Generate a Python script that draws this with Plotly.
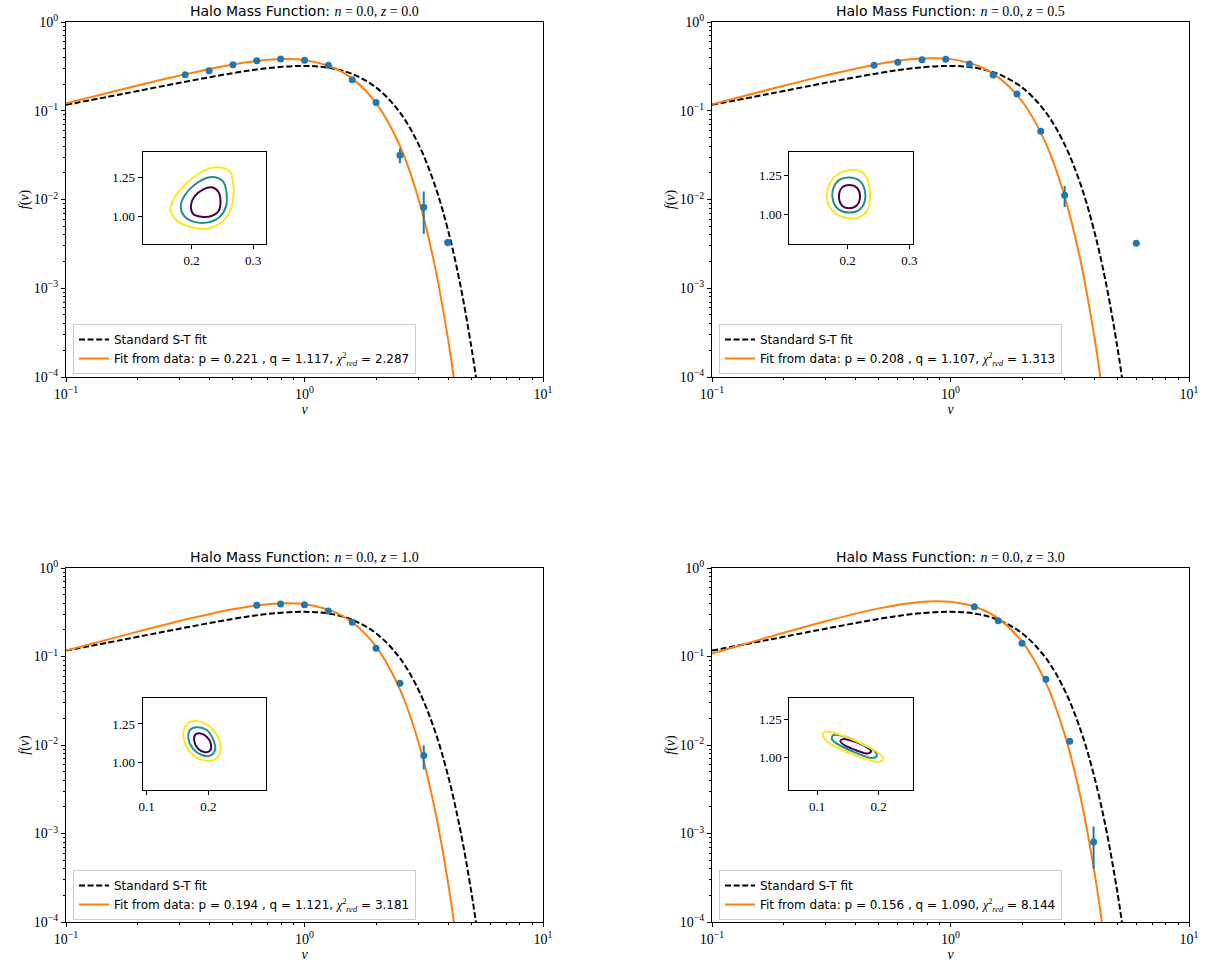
import plotly.graph_objects as go

# ---------------- data ----------------
redshifts = ["0.0", "0.5", "1.0", "3.0"]
p_fit = ["0.221", "0.208", "0.194", "0.156"]
q_fit = ["1.117", "1.107", "1.121", "1.090"]
chi2_fit = ["2.287", "1.313", "3.181", "8.144"]

# standard Sheth-Tormen curve
nu_std = [0.1, 0.15, 0.2, 0.3, 0.5, 0.7, 1.0, 1.3, 1.6, 2.0, 2.5, 3.0, 3.5, 4.0, 4.5, 5.0, 5.25, 5.5]
f_std = [0.11670, 0.14358, 0.16685, 0.20636, 0.26535, 0.30214, 0.32022, 0.30121, 0.25704,
         0.18207, 0.097333, 0.042395, 0.015173, 0.0044810, 0.0010973, 0.00022305, 0.00009388, 0.00003773]

# fitted curves (orange)
nu_fit = [0.1, 0.2, 0.3, 0.5, 0.7, 0.85, 1.0, 1.3, 1.6, 2.0, 2.5, 3.0, 3.5, 4.0, 4.25, 4.5]
f_fit_z00 = [0.12106, 0.19225, 0.24983, 0.33273, 0.37532, 0.38268, 0.37192, 0.31107, 0.22591,
             0.12113, 0.041401, 0.010364, 0.0019197, 0.00026454, 0.00008812, 0.000027255]
f_fit_z05 = [0.11845, 0.19106, 0.25035, 0.33674, 0.38227, 0.39126, 0.38158, 0.32127, 0.23483,
             0.12709, 0.044010, 0.011184, 0.0021075, 0.00029614, 0.00009965, 0.000031184]
f_fit_z10 = [0.11647, 0.19097, 0.25234, 0.34237, 0.39021, 0.39995, 0.39020, 0.32808, 0.23894,
             0.12833, 0.043836, 0.010944, 0.0020183, 0.00027651, 0.00009179, 0.000028286]
f_fit_z30 = [0.10832, 0.18539, 0.25068, 0.34966, 0.40596, 0.42087, 0.41493, 0.35590, 0.26447,
             0.14616, 0.052017, 0.013611, 0.0026487, 0.00038563, 0.00013229, 0.000042198]

# measured points
nu_z00 = [0.316, 0.398, 0.501, 0.631, 0.794, 1.0, 1.259, 1.585, 1.995, 2.512, 3.162, 3.981]
f_z00 = [0.255, 0.283, 0.330, 0.366, 0.383, 0.370, 0.325, 0.224, 0.124, 0.0316, 0.0082, 0.00327]
err_z00 = [0, 0, 0, 0, 0, 0, 0, 0, 0.002, 0.006, 0.0041, 0.0003]

nu_z05 = [0.478, 0.601, 0.759, 0.955, 1.20, 1.51, 1.90, 2.39, 3.01, 6.01]
f_z05 = [0.325, 0.351, 0.376, 0.380, 0.336, 0.253, 0.154, 0.0586, 0.0112, 0.00321]
err_z05 = [0, 0, 0, 0, 0, 0, 0, 0.002, 0.003, 0.0002]

nu_z10 = [0.631, 0.794, 1.0, 1.259, 1.585, 1.995, 2.512, 3.162]
f_z10 = [0.379, 0.392, 0.385, 0.327, 0.243, 0.124, 0.0498, 0.0076]
err_z10 = [0, 0, 0, 0, 0, 0, 0.002, 0.0023]

nu_z30 = [1.259, 1.585, 1.995, 2.512, 3.162, 3.981]
f_z30 = [0.365, 0.254, 0.141, 0.0552, 0.0110, 0.0008]
err_z30 = [0, 0, 0, 0.002, 0.0008, 0.0004]

# inset confidence contours (p on x, q on y)
c_z00_1x = [0.2324, 0.2432, 0.2470, 0.2432, 0.2324, 0.2162, 0.2027, 0.1989, 0.2054, 0.2189]
c_z00_1y = [1.1875, 1.1595, 1.0948, 1.0302, 1.0022, 0.9978, 1.0151, 1.0733, 1.1315, 1.1746]
c_z00_2x = [0.2378, 0.2514, 0.2568, 0.2557, 0.2459, 0.2243, 0.2027, 0.1876, 0.1822, 0.1892, 0.2081, 0.2243]
c_z00_2y = [1.2522, 1.2241, 1.1487, 1.0625, 0.9978, 0.9591, 0.9655, 1.0022, 1.0625, 1.1379, 1.2134, 1.2478]
c_z00_3x = [0.2459, 0.2622, 0.2676, 0.2676, 0.2622, 0.2459, 0.2243, 0.2000, 0.1784, 0.1659, 0.1676, 0.1811, 0.2081, 0.2297]
c_z00_3y = [1.3168, 1.2888, 1.2134, 1.1164, 1.0302, 0.9547, 0.9203, 0.9289, 0.9655, 1.0302, 1.0841, 1.1703, 1.2672, 1.3103]

c_z05_1x = [0.2027, 0.2146, 0.2200, 0.2146, 0.2027, 0.1908, 0.1859, 0.1908]
c_z05_1y = [1.1913, 1.1739, 1.1152, 1.0565, 1.0391, 1.0565, 1.1152, 1.1739]
c_z05_2x = [0.2027, 0.2189, 0.2276, 0.2276, 0.2189, 0.2027, 0.1865, 0.1768, 0.1768, 0.1865]
c_z05_2y = [1.2391, 1.2196, 1.1587, 1.0826, 1.0283, 1.0109, 1.0283, 1.0826, 1.1696, 1.2239]
c_z05_3x = [0.2054, 0.2216, 0.2324, 0.2362, 0.2324, 0.2189, 0.2027, 0.1838, 0.1703, 0.1659, 0.1714, 0.1865]
c_z05_3y = [1.2891, 1.2783, 1.2239, 1.1043, 1.0283, 0.9804, 0.9717, 0.9957, 1.0500, 1.1261, 1.2022, 1.2674]

c_z10_1x = [0.1854, 0.1973, 0.2043, 0.2027, 0.1946, 0.1838, 0.1773, 0.1784]
c_z10_1y = [1.1897, 1.1681, 1.1185, 1.0776, 1.0668, 1.0884, 1.1358, 1.1789]
c_z10_2x = [0.1811, 0.1973, 0.2081, 0.2108, 0.2027, 0.1892, 0.1746, 0.1676, 0.1703]
c_z10_2y = [1.2284, 1.2112, 1.1466, 1.0819, 1.0453, 1.0496, 1.0927, 1.1573, 1.2112]
c_z10_3x = [0.1784, 0.1973, 0.2135, 0.2200, 0.2135, 0.2000, 0.1811, 0.1659, 0.1595, 0.1649]
c_z10_3y = [1.2694, 1.2478, 1.1789, 1.0927, 1.0280, 1.0108, 1.0323, 1.0927, 1.1789, 1.2478]

c_z30_1x = [0.1416, 0.1578, 0.1795, 0.1876, 0.1822, 0.1632, 0.1443, 0.1378]
c_z30_1y = [1.1196, 1.1065, 1.0696, 1.0413, 1.0261, 1.0478, 1.0804, 1.1065]
c_z30_2x = [0.1265, 0.1470, 0.1741, 0.1946, 0.1968, 0.1876, 0.1632, 0.1362, 0.1243]
c_z30_2y = [1.1457, 1.1348, 1.0848, 1.0370, 1.0087, 0.9978, 1.0304, 1.0804, 1.1196]
c_z30_3x = [0.1119, 0.1362, 0.1686, 0.2011, 0.2076, 0.1984, 0.1741, 0.1362, 0.1146, 0.1092]
c_z30_3y = [1.1674, 1.1500, 1.0978, 1.0261, 0.9891, 0.9717, 0.9978, 1.0587, 1.1130, 1.1457]

inset_xticks = [[0.2, 0.3], [0.2, 0.3], [0.1, 0.2], [0.1, 0.2]]
inset_yticks = [1.00, 1.25]

# ---------------- layout helpers ----------------
W, H = 1223, 965
SANS = "DejaVu Sans"
SERIF = "Liberation Serif"
C_BLUE = "#1f77b4"
C_ORANGE = "#ff7f0e"
VIRIDIS = ["#440154", "#21918c", "#fde725"]


def fx(px):
    return px / W


def fy(py):
    return 1 - py / H


main_boxes = [(66, 543, 22, 377), (712, 1189, 22, 377), (66, 543, 568, 922), (712, 1189, 568, 922)]
inset_boxes = [(142.5, 266, 152.3, 244.3), (789.3, 912.7, 152.3, 244.3),
               (142.7, 266, 697.7, 790), (789.3, 912.7, 697.7, 790)]
inset_xr = [[0.120, 0.321], [0.1054, 0.3054], [0.0935, 0.2935], [0.0551, 0.2551]]
inset_yr = [[0.819, 1.414], [0.804, 1.404], [0.823, 1.420], [0.789, 1.389]]

fits = [f_fit_z00, f_fit_z05, f_fit_z10, f_fit_z30]
pts = [(nu_z00, f_z00, err_z00), (nu_z05, f_z05, err_z05), (nu_z10, f_z10, err_z10), (nu_z30, f_z30, err_z30)]
conts = [
    [(c_z00_1x, c_z00_1y), (c_z00_2x, c_z00_2y), (c_z00_3x, c_z00_3y)],
    [(c_z05_1x, c_z05_1y), (c_z05_2x, c_z05_2y), (c_z05_3x, c_z05_3y)],
    [(c_z10_1x, c_z10_1y), (c_z10_2x, c_z10_2y), (c_z10_3x, c_z10_3y)],
    [(c_z30_1x, c_z30_1y), (c_z30_2x, c_z30_2y), (c_z30_3x, c_z30_3y)],
]

fig = go.Figure()
layout = dict(
    width=W, height=H, margin=dict(l=0, r=0, t=0, b=0),
    paper_bgcolor="white", plot_bgcolor="white", showlegend=True,
    annotations=[],
)

minor_x = [m * 10 ** e for e in (-1, 0) for m in range(2, 10)]
minor_y = [m * 10 ** e for e in (-4, -3, -2, -1) for m in range(2, 10)]

for i in range(4):
    k = i + 1
    xa = "x" if k == 1 else f"x{k}"
    ya = "y" if k == 1 else f"y{k}"
    lg = "legend" if k == 1 else f"legend{k}"
    x0, x1, y0, y1 = main_boxes[i]

    fig.add_trace(go.Scatter(
        x=nu_std, y=f_std, mode="lines", line=dict(color="black", width=2, dash="6px,2.6px"),
        line_shape="spline", name="Standard S-T fit", xaxis=xa, yaxis=ya, legend=lg))
    fig.add_trace(go.Scatter(
        x=nu_fit, y=fits[i], mode="lines", line=dict(color=C_ORANGE, width=2), line_shape="spline",
        name=(f"Fit from data: p = {p_fit[i]} , q = {q_fit[i]}, "
              f"<span style='font-family:{SERIF}'><i>χ</i><sup>2</sup><sub><i>red</i></sub></span> = {chi2_fit[i]}"),
        xaxis=xa, yaxis=ya, legend=lg))
    nu, f, e = pts[i]
    fig.add_trace(go.Scatter(
        x=nu, y=f, mode="markers", marker=dict(color=C_BLUE, size=7),
        error_y=dict(type="data", array=e, visible=True, color=C_BLUE, thickness=2, width=0),
        showlegend=False, xaxis=xa, yaxis=ya))

    axis_common = dict(showline=True, linecolor="black", linewidth=1, mirror=True, ticks="outside",
                       ticklen=4, tickwidth=1, tickcolor="black", showgrid=False, zeroline=False,
                       automargin=False, tickfont=dict(family=SERIF, size=14, color="black"))
    layout["xaxis" if k == 1 else f"xaxis{k}"] = dict(
        axis_common, type="log", range=[-1, 1], domain=[fx(x0), fx(x1)], anchor=ya,
        tickvals=[0.1, 1, 10], ticktext=["10<sup>−1</sup>", "10<sup>0</sup>", "10<sup>1</sup>"],
        minor=dict(tickvals=minor_x, ticks="outside", ticklen=2, tickcolor="black", showgrid=False),
        title=dict(text="<i>ν</i>", font=dict(family=SERIF, size=14, color="black"), standoff=2))
    layout["yaxis" if k == 1 else f"yaxis{k}"] = dict(
        axis_common, type="log", range=[-4, 0], domain=[fy(y1), fy(y0)], anchor=xa,
        tickvals=[1e-4, 1e-3, 1e-2, 1e-1, 1],
        ticktext=["10<sup>−4</sup>", "10<sup>−3</sup>", "10<sup>−2</sup>", "10<sup>−1</sup>", "10<sup>0</sup>"],
        minor=dict(tickvals=minor_y, ticks="outside", ticklen=2, tickcolor="black", showgrid=False),
        title=dict(text="<i>f</i>(<i>ν</i>)", font=dict(family=SERIF, size=14, color="black"), standoff=0))

    layout[lg] = dict(
        x=fx(x0 + 7), y=fy(y0 + 302), xanchor="left", yanchor="top",
        bgcolor="rgba(255,255,255,0.85)", bordercolor="#cccccc", borderwidth=1,
        font=dict(family=SANS, size=12, color="black"), tracegroupgap=0)

    layout["annotations"].append(dict(
        x=fx((x0 + x1) / 2), y=fy(y0), xref="paper", yref="paper", xanchor="center", yanchor="bottom",
        yshift=1, showarrow=False,
        text=(f"Halo Mass Function: <span style='font-family:{SERIF}'><i>n</i> = 0.0, "
              f"<i>z</i> = {redshifts[i]}</span>"),
        font=dict(family=SANS, size=14, color="black")))

    # inset
    ki = k + 4
    xi, yi = f"x{ki}", f"y{ki}"
    ix0, ix1, iy0, iy1 = inset_boxes[i]
    for j, (cx, cy) in enumerate(conts[i]):
        fig.add_trace(go.Scatter(
            x=list(cx) + [cx[0]], y=list(cy) + [cy[0]], mode="lines", line_shape="spline",
            line=dict(color=VIRIDIS[j], width=2), showlegend=False, xaxis=xi, yaxis=yi))
    inset_common = dict(showline=True, linecolor="black", linewidth=1, mirror=True, ticks="outside",
                        ticklen=4, tickwidth=1, tickcolor="black", showgrid=False, zeroline=False,
                        automargin=False, tickfont=dict(family=SERIF, size=13, color="black"))
    layout[f"xaxis{ki}"] = dict(inset_common, range=inset_xr[i], domain=[fx(ix0), fx(ix1)], anchor=yi,
                                tickvals=inset_xticks[i], ticktext=[f"{v:.1f}" for v in inset_xticks[i]])
    layout[f"yaxis{ki}"] = dict(inset_common, range=inset_yr[i], domain=[fy(iy1), fy(iy0)], anchor=xi,
                                tickvals=inset_yticks, ticktext=[f"{v:.2f}" for v in inset_yticks])

fig.update_layout(**layout)
fig.write_html("out.html", config={"displayModeBar": False},
               post_script="document.body.style.margin='0px';")
